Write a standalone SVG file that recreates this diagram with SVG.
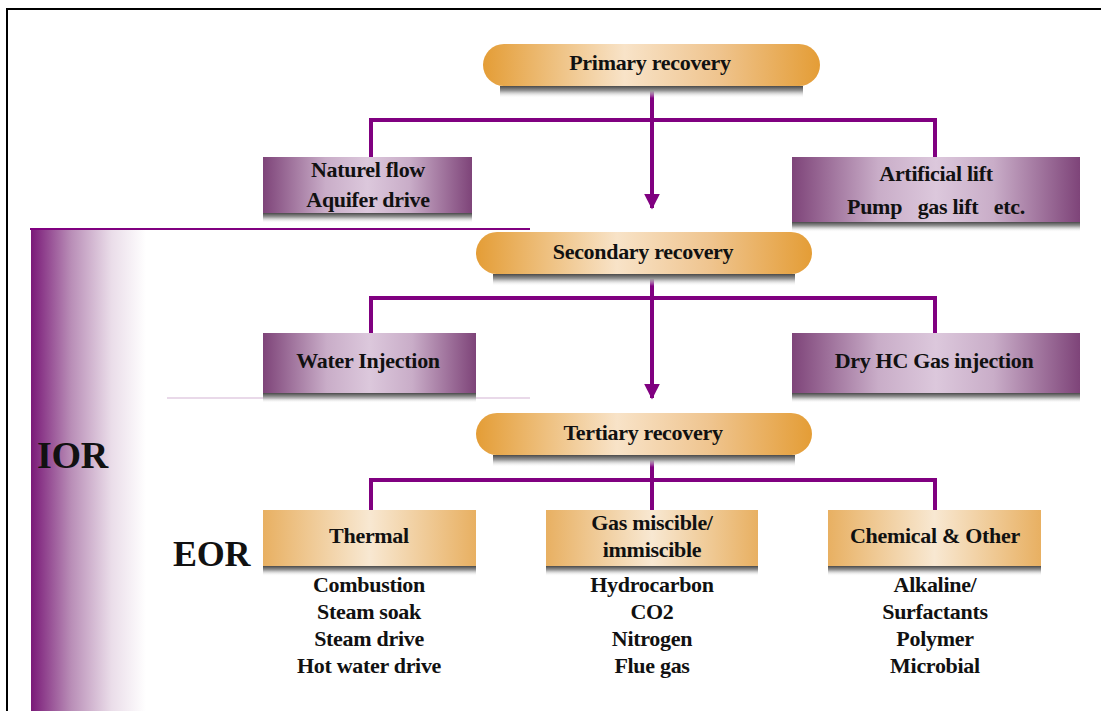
<svg xmlns="http://www.w3.org/2000/svg" width="1101" height="711" viewBox="0 0 1101 711">
<defs>
<linearGradient id="gPill" x1="0" y1="0" x2="1" y2="0">
<stop offset="0" stop-color="#E49D36"/>
<stop offset="0.42" stop-color="#F8E3C8"/>
<stop offset="0.7" stop-color="#EFC48E"/>
<stop offset="1" stop-color="#E49D36"/>
</linearGradient>
<linearGradient id="gOrange" x1="0" y1="0" x2="1" y2="0">
<stop offset="0" stop-color="#E8B062"/>
<stop offset="0.5" stop-color="#F8E8D2"/>
<stop offset="1" stop-color="#E8B062"/>
</linearGradient>
<linearGradient id="gPurple" x1="0" y1="0" x2="1" y2="0">
<stop offset="0" stop-color="#7E4479"/>
<stop offset="0.3" stop-color="#C9ADC8"/>
<stop offset="0.5" stop-color="#DCC8DC"/>
<stop offset="0.7" stop-color="#C9ADC8"/>
<stop offset="1" stop-color="#7E4479"/>
</linearGradient>
<linearGradient id="gShadow" x1="0" y1="0" x2="0" y2="1">
<stop offset="0" stop-color="#4a4a4a"/>
<stop offset="0.4" stop-color="#9a9a9a"/>
<stop offset="1" stop-color="#ffffff" stop-opacity="0"/>
</linearGradient>
<linearGradient id="gIOR" x1="0" y1="0" x2="1" y2="0">
<stop offset="0" stop-color="#7A1A78"/>
<stop offset="0.35" stop-color="#B98EB7"/>
<stop offset="0.7" stop-color="#EADDE9"/>
<stop offset="1" stop-color="#ffffff"/>
</linearGradient>
<marker id="arrow" viewBox="0 0 10 10" refX="9" refY="5" markerWidth="4" markerHeight="4.2" orient="auto" markerUnits="strokeWidth">
<path d="M0,0 L10,5 L0,10 z" fill="#800080"/>
</marker>
</defs>
<style>
text{font-family:"Liberation Serif","Times New Roman",serif;font-weight:bold;fill:#111;text-anchor:middle;letter-spacing:-0.3px;white-space:pre}
.t{font-size:22px}
.big{font-size:38px;text-anchor:start}
.conn{stroke:#800080;stroke-width:4;fill:none}
</style>
<rect width="1101" height="711" fill="#fff"/>
<!-- frame -->
<path d="M7,711 V9 H1101" fill="none" stroke="#000" stroke-width="2"/>

<!-- IOR band -->
<g id="ior">
<rect x="31" y="229" width="115" height="482" fill="url(#gIOR)"/>
<line x1="30" y1="229" x2="530" y2="229" stroke="#800080" stroke-width="2"/>
<line x1="167" y1="398" x2="530" y2="398" stroke="#E2CCE2" stroke-width="1.5"/>
<text class="big" x="37" y="468">IOR</text>
</g>
<g id="eor-label"><text class="big" x="173" y="566" style="font-size:36px">EOR</text></g>

<!-- connectors -->
<g id="connectors">
<path class="conn" d="M652,88 V208" marker-end="url(#arrow)"/>
<path class="conn" d="M371,158 V120 H935 V158"/>
<path class="conn" d="M652,276 V398" marker-end="url(#arrow)"/>
<path class="conn" d="M371,333 V298 H935 V333"/>
<path class="conn" d="M652,457 V510"/>
<path class="conn" d="M371,510 V480 H935 V510"/>
</g>

<!-- Primary -->
<g id="primary">
<rect x="500" y="86" width="303" height="12" fill="url(#gShadow)"/>
<rect x="483" y="44" width="337" height="42" rx="21" fill="url(#gPill)"/>
<text class="t" x="650" y="70">Primary recovery</text>
</g>
<g id="natural">
<rect x="263" y="213" width="209" height="10" fill="url(#gShadow)"/>
<rect x="263" y="157" width="209" height="56" fill="url(#gPurple)"/>
<text class="t" x="368" y="177">Naturel flow</text>
<text class="t" x="368" y="207">Aquifer drive</text>
</g>
<g id="artificial">
<rect x="792" y="222" width="288" height="10" fill="url(#gShadow)"/>
<rect x="792" y="157" width="288" height="65" fill="url(#gPurple)"/>
<text class="t" x="936" y="181">Artificial lift</text>
<text class="t" x="936" y="214" xml:space="preserve">Pump   gas lift   etc.</text>
</g>

<!-- Secondary -->
<g id="secondary">
<rect x="493" y="274" width="302" height="12" fill="url(#gShadow)"/>
<rect x="476" y="232" width="336" height="42" rx="21" fill="url(#gPill)"/>
<text class="t" x="643" y="259">Secondary recovery</text>
</g>
<g id="water">
<rect x="263" y="393" width="213" height="10" fill="url(#gShadow)"/>
<rect x="263" y="333" width="213" height="60" fill="url(#gPurple)"/>
<text class="t" x="368" y="368">Water Injection</text>
</g>
<g id="dryhc">
<rect x="792" y="393" width="288" height="10" fill="url(#gShadow)"/>
<rect x="792" y="333" width="288" height="60" fill="url(#gPurple)"/>
<text class="t" x="934" y="368">Dry HC Gas injection</text>
</g>

<!-- Tertiary -->
<g id="tertiary">
<rect x="493" y="455" width="302" height="12" fill="url(#gShadow)"/>
<rect x="476" y="413" width="336" height="42" rx="21" fill="url(#gPill)"/>
<text class="t" x="643" y="440">Tertiary recovery</text>
</g>
<g id="thermal">
<rect x="263" y="566" width="213" height="10" fill="url(#gShadow)"/>
<rect x="263" y="510" width="213" height="56" fill="url(#gOrange)"/>
<text class="t" x="369" y="543">Thermal</text>
<text class="t" x="369" y="592">Combustion</text>
<text class="t" x="369" y="619">Steam soak</text>
<text class="t" x="369" y="646">Steam drive</text>
<text class="t" x="369" y="673">Hot water drive</text>
</g>
<g id="gas">
<rect x="546" y="566" width="212" height="10" fill="url(#gShadow)"/>
<rect x="546" y="510" width="212" height="56" fill="url(#gOrange)"/>
<text class="t" x="652" y="530">Gas miscible/</text>
<text class="t" x="652" y="557">immiscible</text>
<text class="t" x="652" y="592">Hydrocarbon</text>
<text class="t" x="652" y="619">CO2</text>
<text class="t" x="652" y="646">Nitrogen</text>
<text class="t" x="652" y="673">Flue gas</text>
</g>
<g id="chemical">
<rect x="828" y="566" width="213" height="10" fill="url(#gShadow)"/>
<rect x="828" y="510" width="213" height="56" fill="url(#gOrange)"/>
<text class="t" x="935" y="543">Chemical &amp; Other</text>
<text class="t" x="935" y="592">Alkaline/</text>
<text class="t" x="935" y="619">Surfactants</text>
<text class="t" x="935" y="646">Polymer</text>
<text class="t" x="935" y="673">Microbial</text>
</g>
</svg>
